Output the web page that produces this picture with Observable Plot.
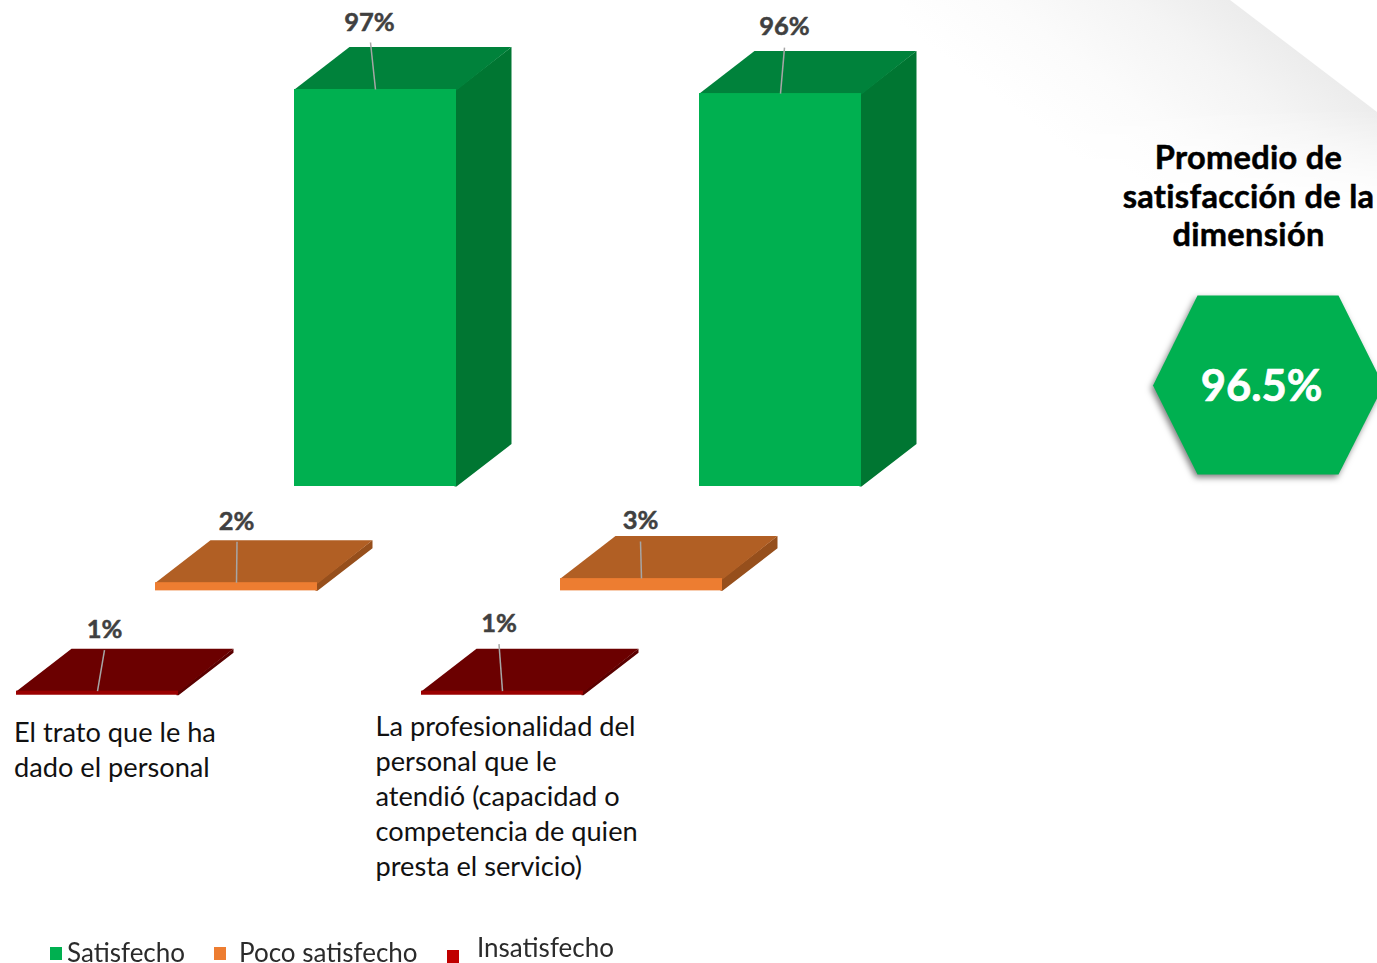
<!DOCTYPE html>
<html lang="es">
<head>
<meta charset="utf-8">
<script src="https://cdn.jsdelivr.net/npm/d3@7"></script>
<script src="https://cdn.jsdelivr.net/npm/@observablehq/plot@0.6"></script>
<style>
  html, body { margin: 0; padding: 0; background: #fff; overflow: hidden; }
  #page { position: relative; width: 1377px; height: 963px; font-family: Lato, sans-serif; }
  /* pale folded-paper corner behind the chart */
  #corner {
    position: absolute; left: 900px; top: 0; width: 477px; height: 260px;
    background: linear-gradient(217deg, #ececec 18%, #f4f4f4 30%, #fbfbfb 46%, #ffffff 62%);
    clip-path: polygon(0 0, 330px 0, 477px 112px, 477px 260px, 0 260px);
    -webkit-mask-image: linear-gradient(to bottom, #000 42%, transparent 80%);
    mask-image: linear-gradient(to bottom, #000 42%, transparent 80%);
  }
  #chart { position: absolute; left: 0; top: 0; }
  #chart svg { background: transparent; display: block; }
  #chart .panel-title text { letter-spacing: 0.3px; font-variant-ligatures: none; }
  #legend { position: absolute; left: 0; top: 925px; width: 1377px; height: 38px; overflow: visible; filter: blur(0.6px); color: #2b2b2b; font-size: 26px; }
  #legend .key { position: absolute; width: 12px; height: 13px; }
  #legend .lab { position: absolute; display: block; height: 20px; line-height: 20px; white-space: nowrap; }
</style>
</head>
<body>
<div id="page">
  <div id="corner"></div>
  <div id="chart"></div>
  <div id="legend"></div>
</div>
<script>
// Survey results per question, in percent
const categories = [
  ["El trato que le ha", "dado el personal"],
  ["La profesionalidad del", "personal que le", "atendió (capacidad o", "competencia de quien", "presta el servicio)"]
];
const seriesNames = ["Satisfecho", "Poco satisfecho", "Insatisfecho"];
const satisfecho = [97, 96];
const pocoSatisfecho = [2, 3];
const insatisfecho = [1, 1];
const average = "96.5%";
const panelTitle = ["Promedio de", "satisfacción de la", "dimensión"];

// Face colours for each series
const frontColors = ["#00B050", "#ED7D31", "#9A0000"];
const topColors = ["#00823B", "#B15F24", "#6B0000"];
const sideColors = ["#007632", "#964F1C", "#5A0000"];
const legendColors = ["#00B050", "#ED7D31", "#C00000"];

// Chart geometry: one x unit is the spacing between questions, y is in percent
const W = 1377, H = 925;
const xPerUnit = 405, yPerPct = 4.093, originX = 375, originY = 486;
const toX = px => (px - originX) / xPerUnit;
const toY = py => (originY - py) / yPerPct;
const halfWidth = 0.2, depthX = 55 / xPerUnit, depthY = 42.5 / yPerPct;
const rowShiftX = -139 / xPerUnit, rowShiftY = -25.5;
// The back faces tuck slightly under the front face so no seam shows
const tuckX = 2 / xPerUnit, tuckY = 1 / yPerPct;

// Data label and leader offsets from the top centre of each front face, in pixels
const labelShift = [[[-6, -67], [4, -67]], [[0, -61], [-1, -58]], [[7, -61], [-3.5, -67]]];
const leaderShift = [[[-5, -47], [4, -46]], [[0.5, -41], [-1, -37]], [[7, -41], [-3.5, -47]]];

const bars = [satisfecho, pocoSatisfecho, insatisfecho].flatMap((values, s) =>
  values.map((value, g) => {
    const cx = g + s * rowShiftX, base = s * rowShiftY, top = base + value;
    return {id: `${s}-${g}`, s, g, value, cx, base, top};
  })
);

const topFaces = bars.flatMap(b => [
  [b.cx - halfWidth, b.top - tuckY], [b.cx + halfWidth, b.top - tuckY],
  [b.cx + halfWidth + depthX, b.top + depthY], [b.cx - halfWidth + depthX, b.top + depthY],
  [b.cx - halfWidth, b.top]
].map(([x, y]) => ({id: b.id, x, y, fill: topColors[b.s]})));

const sideFaces = bars.flatMap(b => [
  [b.cx + halfWidth - tuckX, b.base], [b.cx + halfWidth, b.base], [b.cx + halfWidth + depthX, b.base + depthY],
  [b.cx + halfWidth + depthX, b.top + depthY], [b.cx + halfWidth, b.top], [b.cx + halfWidth - tuckX, b.top]
].map(([x, y]) => ({id: b.id, x, y, fill: sideColors[b.s]})));

const hexagon = [[1197, 295], [1338, 295], [1383, 385], [1338, 474], [1197, 474], [1152.5, 385]]
  .map(([px, py]) => ({x: toX(px), y: toY(py)}));

// Question labels, one row per line, placed from the centre of each first line
const categoryAnchors = [{x: 13.5, y: 733}, {x: 375, y: 727}];
const categoryLines = categories.flatMap((lines, i) => lines.map((line, k) => ({line, i, k})));

const chart = Plot.plot({
  width: W, height: H,
  margin: 0,
  x: {domain: [toX(0), toX(W)], range: [0, W], axis: null},
  y: {domain: [toY(H), toY(0)], range: [H, 0], axis: null},
  color: {type: "identity"},
  style: {background: "transparent", fontFamily: "Lato, sans-serif"},
  marks: [
    Plot.line(sideFaces, {x: "x", y: "y", z: "id", fill: "fill", stroke: "none"}),
    Plot.line(topFaces, {x: "x", y: "y", z: "id", fill: "fill", stroke: "none"}),
    Plot.rect(bars, {
      x1: d => d.cx - halfWidth, x2: d => d.cx + halfWidth,
      y1: "base", y2: "top",
      fill: d => frontColors[d.s]
    }),
    // Leaders from each bar to its label
    Plot.link(bars, {
      x1: d => d.cx, y1: "top",
      x2: d => d.cx + leaderShift[d.s][d.g][0] / xPerUnit,
      y2: d => d.top - leaderShift[d.s][d.g][1] / yPerPct,
      stroke: "#a6a6a6", strokeWidth: 1.5
    }),
    Plot.text(bars, {
      x: d => d.cx + labelShift[d.s][d.g][0] / xPerUnit,
      y: d => d.top - labelShift[d.s][d.g][1] / yPerPct,
      text: d => `${d.value}%`,
      fill: "#404040", stroke: "#404040", strokeWidth: 0.5, fontWeight: 700, fontSize: 25.5
    }),
    Plot.text(categoryLines, {
      x: d => toX(categoryAnchors[d.i].x),
      y: d => toY(categoryAnchors[d.i].y + d.k * 35),
      text: "line",
      textAnchor: "start",
      fill: "#111", fontSize: 27.2
    }),
    // Panel with the dimension average
    Plot.line(hexagon, {x: "x", y: "y", fill: "#00B050", stroke: "none", imageFilter: "drop-shadow(-2px 3px 3px rgba(0,0,0,0.5))"}),
    Plot.text([average], {
      x: toX(1261), y: toY(387), text: d => d,
      fill: "#fff", stroke: "#fff", strokeWidth: 0.7, fontWeight: 700, fontSize: 43.5
    }),
    Plot.text(panelTitle, {
      x: toX(1248), y: (d, i) => toY([158, 197, 235][i]), text: d => d,
      className: "panel-title",
      fill: "#000", stroke: "#000", strokeWidth: 0.5, fontWeight: 700, fontSize: 32.6
    })
  ]
});
document.getElementById("chart").append(chart);

// Legend row below the plot
const legend = document.getElementById("legend");
const legendItems = [
  {key: [50, 22], lab: [67, 17]},
  {key: [214, 22], lab: [239, 17]},
  {key: [447, 25], lab: [477, 12]}
];
seriesNames.forEach((name, i) => {
  const key = document.createElement("span");
  key.className = "key";
  key.style.cssText = `left:${legendItems[i].key[0]}px;top:${legendItems[i].key[1]}px;background:${legendColors[i]}`;
  const lab = document.createElement("span");
  lab.className = "lab";
  lab.style.cssText = `left:${legendItems[i].lab[0]}px;top:${legendItems[i].lab[1]}px`;
  lab.textContent = name;
  legend.append(key, lab);
});
</script>
</body>
</html>
